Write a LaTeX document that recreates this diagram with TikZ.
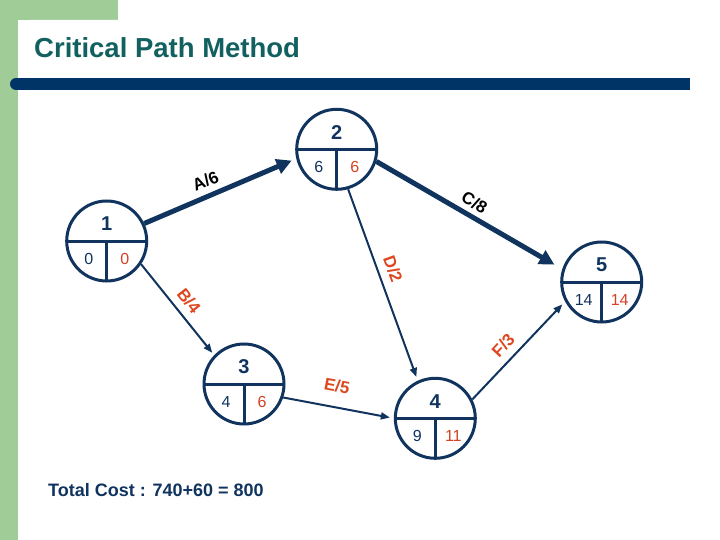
\documentclass[tikz,border=0pt]{standalone}
\usepackage{fontspec}
\setmainfont{Liberation Sans}
\usetikzlibrary{arrows.meta}
\definecolor{navy}{RGB}{16,52,94}
\definecolor{barblue}{RGB}{0,51,102}
\definecolor{lgreen}{RGB}{160,204,152}
\definecolor{tealtitle}{RGB}{18,96,96}
\definecolor{redor}{RGB}{222,72,32}
\definecolor{numred}{RGB}{214,64,36}
\newcommand\cpmnode[6]{%
  \node[cpm] (#1) at (#2,#3) {};
  \draw[navy,line width=3pt] ([xshift=-40pt]#1.center) -- ([xshift=40pt]#1.center);
  \draw[navy,line width=3pt] (#1.center) -- ([yshift=-40pt]#1.center);
  \node[topnum] (#1t) at ([yshift=17pt]#1.center) {#4};
  \node[leftnum] (#1l) at ([xshift=-18pt,yshift=-17.5pt]#1.center) {#5};
  \node[rightnum] (#1r) at ([xshift=18pt,yshift=-17.5pt]#1.center) {#6};
}
\begin{document}
\begin{tikzpicture}[x=1pt,y=-1pt,
  cpm/.style={circle,draw=navy,line width=3pt,minimum size=80pt,inner sep=0pt},
  topnum/.style={font=\bfseries\fontsize{20}{20}\selectfont,text=navy,inner sep=0pt},
  leftnum/.style={font=\fontsize{16}{16}\selectfont,text=navy,inner sep=0pt},
  rightnum/.style={font=\fontsize{16}{16}\selectfont,text=numred,inner sep=0pt},
  thickarrow/.style={draw=navy,line width=5pt,-{Triangle[length=15pt,width=15pt]}},
  thinarrow/.style={draw=navy,line width=2pt,-{Triangle[length=9pt,width=7pt]}},
  blacklab/.style={font=\bfseries\fontsize{17}{17}\selectfont,text=black,inner sep=0pt},
  redlab/.style={font=\bfseries\fontsize{17}{17}\selectfont,text=redor,inner sep=0pt},
]
\useasboundingbox (0,0) rectangle (720,540);
\fill[white] (0,0) rectangle (720,540);
\fill[lgreen] (0,0) rectangle (118,20);
\fill[lgreen] (0,0) rectangle (18,540);
\fill[white,rounded corners=12pt] (18,560) |- (740,20) -- (740,560) -- cycle;
\fill[barblue] (16,78) rectangle (690,90);
\fill[barblue] (16,84) circle (6);
\node[anchor=west,font=\bfseries\fontsize{27.5}{27.5}\selectfont,text=tealtitle,inner sep=0pt] (title) at (34,48) {Critical Path Method};
\node[anchor=west,font=\bfseries\fontsize{18}{18}\selectfont,text=navy,inner sep=0pt] (total) at (48,490) {Total Cost : 740+60 = 800};

\cpmnode{n1}{106.7}{241}{1}{0}{0}
\cpmnode{n2}{336.7}{149.3}{2}{6}{6}
\cpmnode{n3}{244}{384}{3}{4}{6}
\cpmnode{n4}{435.3}{418.3}{4}{9}{11}
\cpmnode{n5}{601.7}{282}{5}{14}{14}

\draw[thickarrow,shorten >=5pt] (n1.25) -- (n2.193);
\draw[thickarrow,shorten >=9pt] (n2.-17) -- (n5.162);
\draw[thinarrow,shorten >=4pt] (n2.-74) -- (n4.115);
\draw[thinarrow,shorten >=3pt] (n1.-34) -- (n3.136);
\draw[thinarrow,shorten >=4pt] (n3.-19) -- (n4.180);
\draw[thinarrow,shorten >=4pt] (n4.27) -- (n5.208);

\node[blacklab,rotate=23] (lA) at (205.5,181) {A/6};
\node[blacklab,rotate=-31] (lC) at (474.5,202.5) {C/8};
\node[redlab,rotate=-70] (lD) at (393,269) {D/2};
\node[redlab,rotate=-52] (lB) at (189,301) {B/4};
\node[redlab,rotate=-11] (lE) at (337,386) {E/5};
\node[redlab,rotate=47] (lF) at (503,345) {F/3};
\end{tikzpicture}
\end{document}
